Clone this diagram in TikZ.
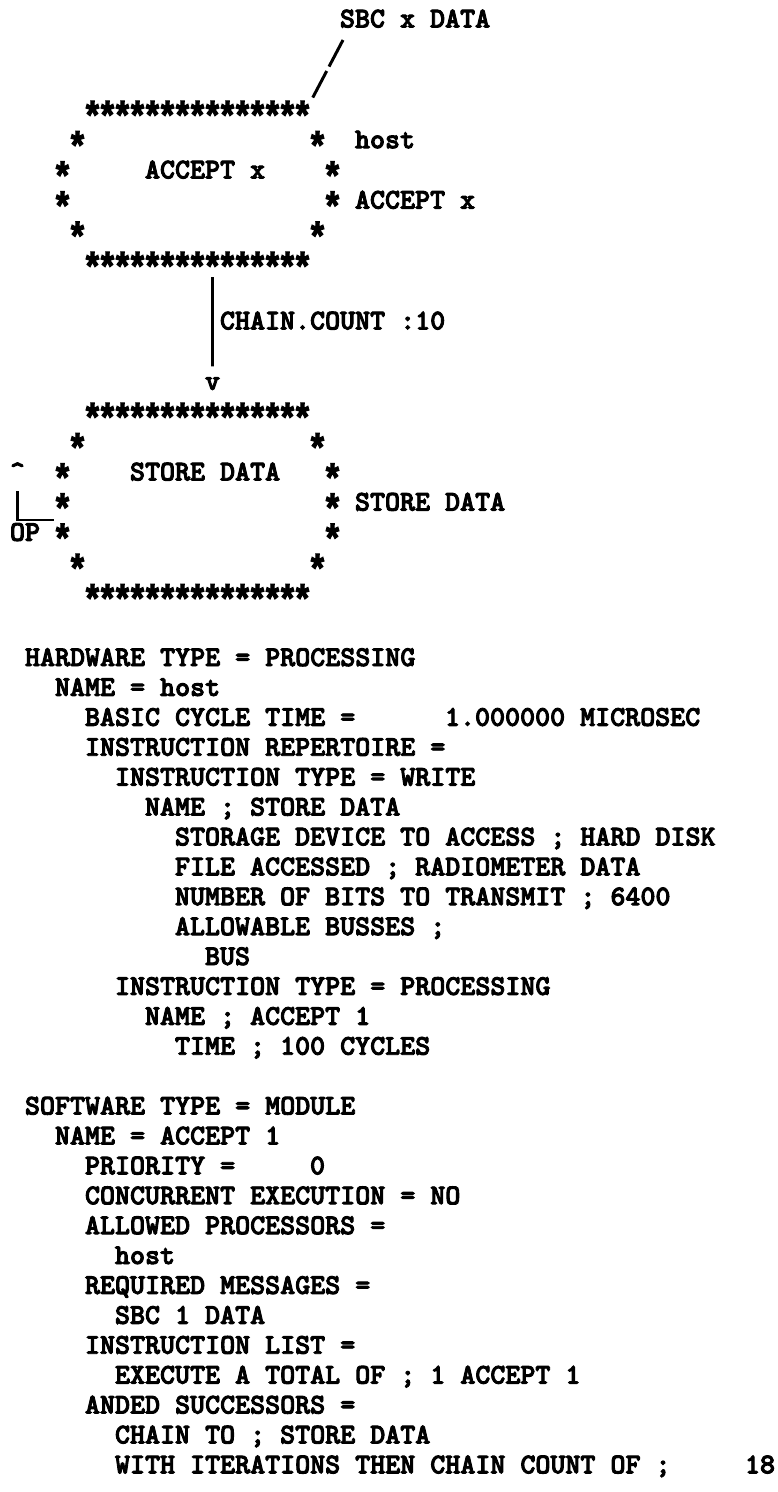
\documentclass[tikz,border=0pt]{standalone}
\usepackage{fontspec}
\newfontfamily\tw[FakeStretch=0.84,FakeBold=2.5]{Liberation Mono}
\newfontfamily\lmt[FakeBold=3.2]{lmmonolt10-bold.otf}
\newcommand\topln[4]{\node[txt] (#1) at ({25+15*(#2)},{27.4+30.2*(#3)}) {#4};}
\newcommand\botln[4]{\node[txt] (#1) at ({25+15*(#2)},{666+29.9*(#3)}) {#4};}
\newcommand\bigstarchar{\makebox[15pt][c]{\smash{\raisebox{-12pt}{\tw\bfseries\fontsize{29.8}{30}\selectfont\scalebox{1.35}{*}}}}}
\def\starrow{\bigstarchar\bigstarchar\bigstarchar\bigstarchar\bigstarchar\bigstarchar\bigstarchar\bigstarchar\bigstarchar\bigstarchar\bigstarchar\bigstarchar\bigstarchar\bigstarchar\bigstarchar}
\tikzset{
  txt/.style={anchor=base west, inner sep=0pt, outer sep=0pt,
    font=\lmt\fontsize{28.6}{30}\selectfont},
  conn/.style={line width=2.8pt, black},
}
\begin{document}
\begin{tikzpicture}[x=1pt,y=-1pt]
\fill[white] (0,0) rectangle (778,1492);
\useasboundingbox (0,0) rectangle (778,1492);
% ---- top box: ACCEPT x
\topln{sbc}{21}{0}{SBC x DATA}
\topln{a0}{4}{3}{\starrow}
\topln{a1l}{3}{4}{\bigstarchar}
\topln{a1r}{19}{4}{\bigstarchar}
\topln{host}{22}{4}{host}
\topln{a2l}{2}{5}{\bigstarchar}
\topln{acc}{8}{5}{ACCEPT x}
\topln{a2r}{20}{5}{\bigstarchar}
\topln{a3l}{2}{6}{\bigstarchar}
\topln{a3r}{20}{6}{\bigstarchar}
\topln{accr}{22}{6}{ACCEPT x}
\topln{a4l}{3}{7}{\bigstarchar}
\topln{a4r}{19}{7}{\bigstarchar}
\topln{a5}{4}{8}{\starrow}
% connector SBC -> box
\coordinate (sl1) at (343,40);
\coordinate (sl2) at (312,99);
\draw[conn, line width=3pt, dash pattern=on 30pt off 5pt] (sl1) -- (sl2);
% chain connector
\topln{chain}{13}{10}{CHAIN.COUNT :10}
\topln{v}{12}{12}{v}
\coordinate (vtop) at (212.5,277);
\draw[conn] (vtop) -- ([yshift=11pt]v.north);
% ---- bottom box: STORE DATA
\topln{b0}{4}{13}{\starrow}
\topln{b1l}{3}{14}{\bigstarchar}
\topln{b1r}{19}{14}{\bigstarchar}
\topln{caret}{-1}{15}{\textasciicircum}
\topln{b2l}{2}{15}{\bigstarchar}
\topln{store}{7}{15}{STORE DATA}
\topln{b2r}{20}{15}{\bigstarchar}
\topln{b3l}{2}{16}{\bigstarchar}
\topln{b3r}{20}{16}{\bigstarchar}
\topln{storer}{22}{16}{STORE DATA}
\topln{op}{-1}{17}{OP}
\topln{b4l}{2}{17}{\bigstarchar}
\topln{b4r}{20}{17}{\bigstarchar}
\topln{b5l}{3}{18}{\bigstarchar}
\topln{b5r}{19}{18}{\bigstarchar}
\topln{b6}{4}{19}{\starrow}
\coordinate (lt) at (17.5,491);
\coordinate (lb) at (17.5,520);
\draw[conn, line width=2.6pt] (lt) -- (lb) -- ([xshift=-1pt]b3l.base west |- lb);
% ---- hardware listing
\botln{h0}{0}{0}{HARDWARE TYPE = PROCESSING}
\botln{h1}{2}{1}{NAME = host}
\botln{h2}{4}{2}{BASIC CYCLE TIME =}
\botln{h2b}{28}{2}{1.000000 MICROSEC}
\botln{h3}{4}{3}{INSTRUCTION REPERTOIRE =}
\botln{h4}{6}{4}{INSTRUCTION TYPE = WRITE}
\botln{h5}{8}{5}{NAME ; STORE DATA}
\botln{h6}{10}{6}{STORAGE DEVICE TO ACCESS ; HARD DISK}
\botln{h7}{10}{7}{FILE ACCESSED ; RADIOMETER DATA}
\botln{h8}{10}{8}{NUMBER OF BITS TO TRANSMIT ; 6400}
\botln{h9}{10}{9}{ALLOWABLE BUSSES ;}
\botln{h10}{12}{10}{BUS}
\botln{h11}{6}{11}{INSTRUCTION TYPE = PROCESSING}
\botln{h12}{8}{12}{NAME ; ACCEPT 1}
\botln{h13}{10}{13}{TIME ; 100 CYCLES}
% ---- software listing
\botln{s0}{0}{15}{SOFTWARE TYPE = MODULE}
\botln{s1}{2}{16}{NAME = ACCEPT 1}
\botln{s2}{4}{17}{PRIORITY =}
\botln{s2b}{19}{17}{0}
\botln{s3}{4}{18}{CONCURRENT EXECUTION = NO}
\botln{s4}{4}{19}{ALLOWED PROCESSORS =}
\botln{s5}{6}{20}{host}
\botln{s6}{4}{21}{REQUIRED MESSAGES =}
\botln{s7}{6}{22}{SBC 1 DATA}
\botln{s8}{4}{23}{INSTRUCTION LIST =}
\botln{s9}{6}{24}{EXECUTE A TOTAL OF ; 1 ACCEPT 1}
\botln{s10}{4}{25}{ANDED SUCCESSORS =}
\botln{s11}{6}{26}{CHAIN TO ; STORE DATA}
\botln{s12}{6}{27}{WITH ITERATIONS THEN CHAIN COUNT OF ;}
\botln{s12b}{48}{27}{18}
\end{tikzpicture}
\end{document}
